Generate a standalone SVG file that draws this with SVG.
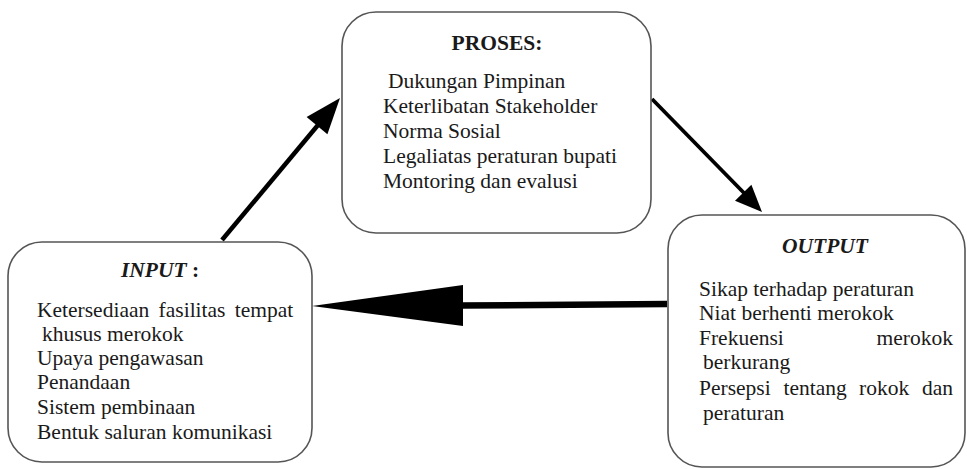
<svg xmlns="http://www.w3.org/2000/svg" width="967" height="469" viewBox="0 0 967 469">
<style>
.box{fill:#fff;stroke:#555;stroke-width:1.6}
.t{font-family:"Liberation Serif","Times New Roman",serif;font-size:21.5px;fill:#1a1a1a}
.h{font-weight:bold;text-anchor:middle}
.hi{font-style:italic}
.ln{stroke:#000;fill:none;stroke-linecap:butt}
.hd{fill:#000;stroke:none}
</style>
<rect width="967" height="469" fill="#fff"/>
<g id="connectors">
  <line class="ln" x1="222" y1="240" x2="318" y2="125" stroke-width="4.5"/>
  <polygon class="hd" points="340,98 327.4,134.3 306.6,117.1"/>
  <line class="ln" x1="652" y1="99" x2="744" y2="193" stroke-width="3.8"/>
  <polygon class="hd" points="762,212 751.4,184.7 735,200.7"/>
  <line class="ln" x1="667" y1="304" x2="460" y2="305.5" stroke-width="6.5"/>
  <polygon class="hd" points="312,306 463,285 463,326"/>
</g>
<g id="proses">
  <rect class="box" x="342" y="12" width="309" height="221" rx="34"/>
  <text class="t h" x="497" y="50">PROSES:</text>
  <text class="t" x="388" y="88">Dukungan Pimpinan</text>
  <text class="t" x="383" y="113">Keterlibatan Stakeholder</text>
  <text class="t" x="383" y="138">Norma Sosial</text>
  <text class="t" x="383" y="163">Legaliatas peraturan bupati</text>
  <text class="t" x="383" y="188">Montoring dan evalusi</text>
</g>
<g id="input">
  <rect class="box" x="8" y="242" width="304" height="220" rx="34"/>
  <text class="t h" x="160" y="277"><tspan class="hi">INPUT</tspan> :</text>
  <text class="t" x="37" y="317" word-spacing="4">Ketersediaan fasilitas tempat</text>
  <text class="t" x="42" y="341">khusus merokok</text>
  <text class="t" x="37" y="365">Upaya pengawasan</text>
  <text class="t" x="37" y="389">Penandaan</text>
  <text class="t" x="37" y="414">Sistem pembinaan</text>
  <text class="t" x="37" y="439">Bentuk saluran komunikasi</text>
</g>
<g id="output">
  <rect class="box" x="668" y="215" width="297" height="252" rx="34"/>
  <text class="t h hi" x="825" y="253">OUTPUT</text>
  <text class="t" x="699" y="296">Sikap terhadap peraturan</text>
  <text class="t" x="699" y="320">Niat berhenti merokok</text>
  <text class="t" x="699" y="345">Frekuensi</text>
  <text class="t" x="953" y="345" text-anchor="end">merokok</text>
  <text class="t" x="703" y="369">berkurang</text>
  <text class="t" x="699" y="395">Persepsi</text>
  <text class="t" x="783.5" y="395">tentang</text>
  <text class="t" x="859" y="395">rokok</text>
  <text class="t" x="953" y="395" text-anchor="end">dan</text>
  <text class="t" x="703" y="420">peraturan</text>
</g>
</svg>
